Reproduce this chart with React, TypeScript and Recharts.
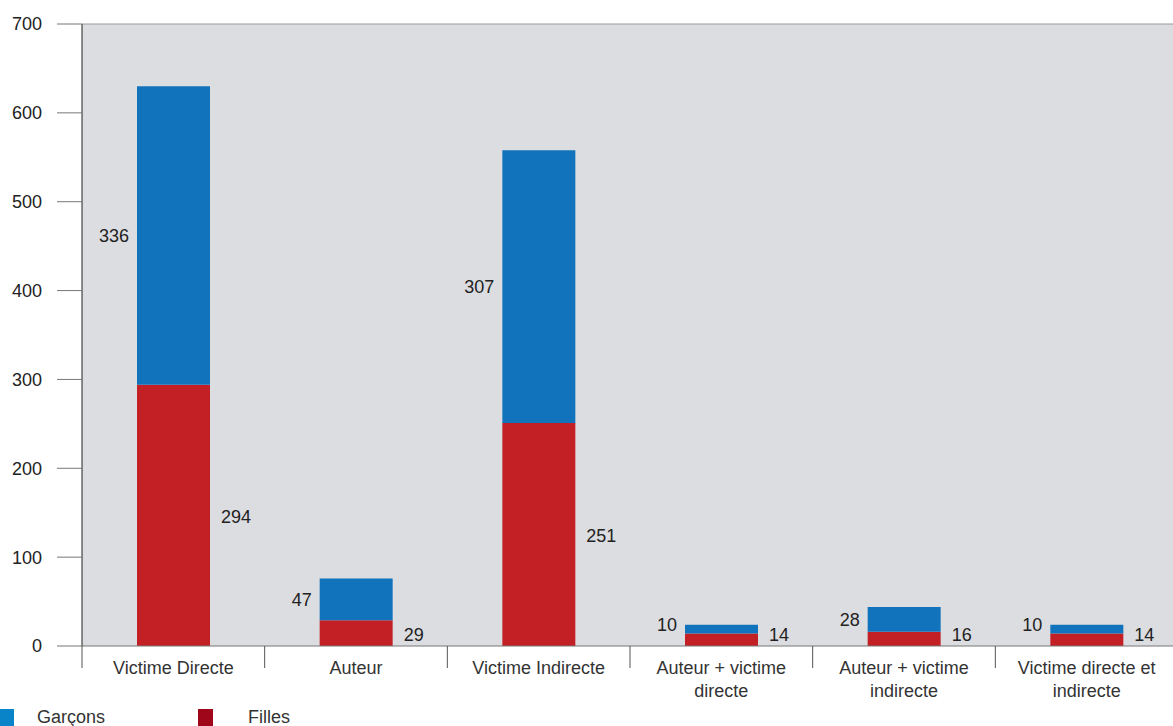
import React from 'react';
import { BarChart, Bar, XAxis, YAxis, CartesianGrid, ReferenceLine, LabelList } from 'recharts';

const categories = [
    'Victime Directe',
    'Auteur',
    'Victime Indirecte',
    'Auteur + victime\ndirecte',
    'Auteur + victime\nindirecte',
    'Victime directe et\nindirecte',
];
const garcons = [336, 47, 307, 10, 28, 10];
const filles = [294, 29, 251, 14, 16, 14];
const yTicks = [0, 100, 200, 300, 400, 500, 600, 700];

const data = categories.map((name, i) => ({ name, garcons: garcons[i], filles: filles[i] }));

const FONT = '"Liberation Sans", Arial, sans-serif';
const FS = 18;
const CHART_W = 1190;
const CHART_H = 726;
const MARGIN = { top: 24, right: 12, left: 0, bottom: 50 };
const Y_W = 82;
const X_H = 30;
const PLOT_W = CHART_W - MARGIN.left - MARGIN.right - Y_W;
const ZERO_Y = CHART_H - MARGIN.bottom - X_H;
const BAND = PLOT_W / categories.length;

const CategoryTick = ({ x, payload }: any) => {
    const lines = String(payload.value).split('\n');
    return (
        <g>
            <line x1={x - BAND / 2} x2={x - BAND / 2} y1={ZERO_Y} y2={ZERO_Y + 22} stroke="#555" strokeWidth={1} />
            {lines.map((l, i) => (
                <text key={i} x={x} y={ZERO_Y + 28 + i * 23} textAnchor="middle" fill="#333" fontSize={FS} fontFamily={FONT}>
                    {l}
                </text>
            ))}
        </g>
    );
};

const GarconsLabel = ({ x, y, height, value }: any) => (
    <text x={x - 8} y={Math.min(y + height / 2 + 2, ZERO_Y - 20)} textAnchor="end" dominantBaseline="middle" fill="#222" fontSize={FS} fontFamily={FONT}>
        {value}
    </text>
);

const FillesLabel = ({ x, y, width, height, value }: any) => (
    <text x={x + width + 11} y={Math.min(y + height / 2 + 3, ZERO_Y - 10)} textAnchor="start" dominantBaseline="middle" fill="#222" fontSize={FS} fontFamily={FONT}>
        {value}
    </text>
);

export default function App() {
    return (
        <div style={{ position: 'absolute', left: 0, top: 0, width: 1173, height: 726, overflow: 'hidden', background: '#fff', fontFamily: FONT }}>
            <BarChart width={CHART_W} height={CHART_H} data={data} margin={MARGIN} barSize={73}>
                <CartesianGrid fill="#dcdde0" horizontal={false} vertical={false} />
                <XAxis
                    dataKey="name"
                    interval={0}
                    height={X_H}
                    axisLine={{ stroke: '#777' }}
                    tickLine={false}
                    tick={<CategoryTick />}
                />
                <YAxis
                    width={Y_W}
                    domain={[0, 700]}
                    ticks={yTicks}
                    axisLine={{ stroke: '#222' }}
                    tickLine={{ stroke: '#777' }}
                    tickSize={25}
                    tickMargin={15}
                    tick={{ fill: '#222', fontSize: FS, fontFamily: FONT }}
                />
                <ReferenceLine y={700} stroke="#999" />
                <Bar dataKey="filles" stackId="a" fill="#c32026" isAnimationActive={false}>
                    <LabelList dataKey="filles" content={<FillesLabel />} />
                </Bar>
                <Bar dataKey="garcons" stackId="a" fill="#1073bc" isAnimationActive={false}>
                    <LabelList dataKey="garcons" content={<GarconsLabel />} />
                </Bar>
            </BarChart>
            <div style={{ position: 'absolute', left: 0, top: 709, width: 14, height: 17, background: '#0a84c8' }} />
            <div style={{ position: 'absolute', left: 37, top: 706, fontSize: FS, color: '#333', lineHeight: '22px' }}>Garçons</div>
            <div style={{ position: 'absolute', left: 198, top: 709, width: 15, height: 17, background: '#a0061a' }} />
            <div style={{ position: 'absolute', left: 248, top: 706, fontSize: FS, color: '#333', lineHeight: '22px' }}>Filles</div>
        </div>
    );
}
